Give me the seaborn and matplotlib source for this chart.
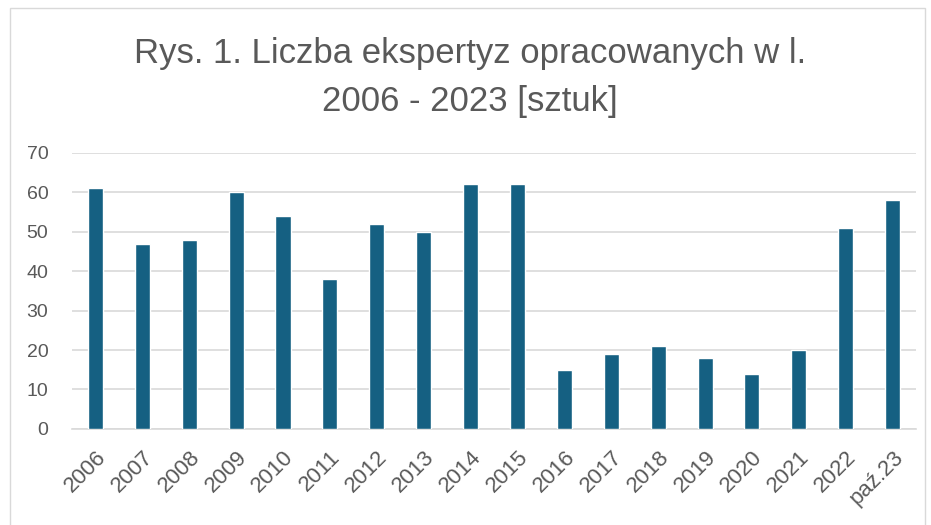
import matplotlib
matplotlib.use("Agg")
import matplotlib.pyplot as plt
import seaborn as sns
import pandas as pd
from matplotlib.patches import Rectangle

# data
years = ["2006", "2007", "2008", "2009", "2010", "2011", "2012", "2013", "2014",
         "2015", "2016", "2017", "2018", "2019", "2020", "2021", "2022", "paź.23"]
counts = [61, 47, 48, 60, 54, 38, 52, 50, 62, 62, 15, 19, 21, 18, 14, 20, 51, 58]
y_ticks = [0, 10, 20, 30, 40, 50, 60, 70]

title = "Rys. 1. Liczba ekspertyz opracowanych w l.\n2006 - 2023 [sztuk]"

df = pd.DataFrame({"rok": years, "liczba": counts})

sns.set_style("white")
plt.rcParams["font.family"] = ["Liberation Sans", "DejaVu Sans"]

text_col = "#595959"
grid_col = "#D9D9D9"

fig = plt.figure(figsize=(9.31, 5.25), dpi=100)
ax = fig.add_axes([0.0773, 0.183, 0.9067, 0.526])

sns.barplot(data=df, x="rok", y="liczba", color="#156082", width=0.32,
            saturation=1, ax=ax, zorder=3)

ax.set_ylim(0, 70)
ax.set_xlim(-0.5, len(years) - 0.5)
ax.set_yticks(y_ticks)
ax.yaxis.grid(True, color=grid_col, linewidth=1.2, zorder=0)
ax.set_axisbelow(True)
for side in ["left", "right", "top"]:
    ax.spines[side].set_visible(False)
ax.spines["bottom"].set_color(grid_col)
ax.spines["bottom"].set_linewidth(1.2)
ax.tick_params(axis="both", length=0, colors=text_col)
ax.tick_params(axis="y", pad=17, labelsize=14)
ax.tick_params(axis="x", pad=13, labelsize=16)
plt.setp(ax.get_xticklabels(), rotation=45, ha="right", rotation_mode="anchor")
ax.set_xlabel("")
ax.set_ylabel("")

fig.text(0.505, 0.9286, title, ha="center", va="top", fontsize=25,
         color=text_col, linespacing=1.56)

# chart area border
fig.patches.append(Rectangle((0.011, -0.01), 0.983, 0.995, transform=fig.transFigure,
                             fill=False, edgecolor="#D9D9D9", linewidth=1))

fig.savefig("out.png", dpi=100)
